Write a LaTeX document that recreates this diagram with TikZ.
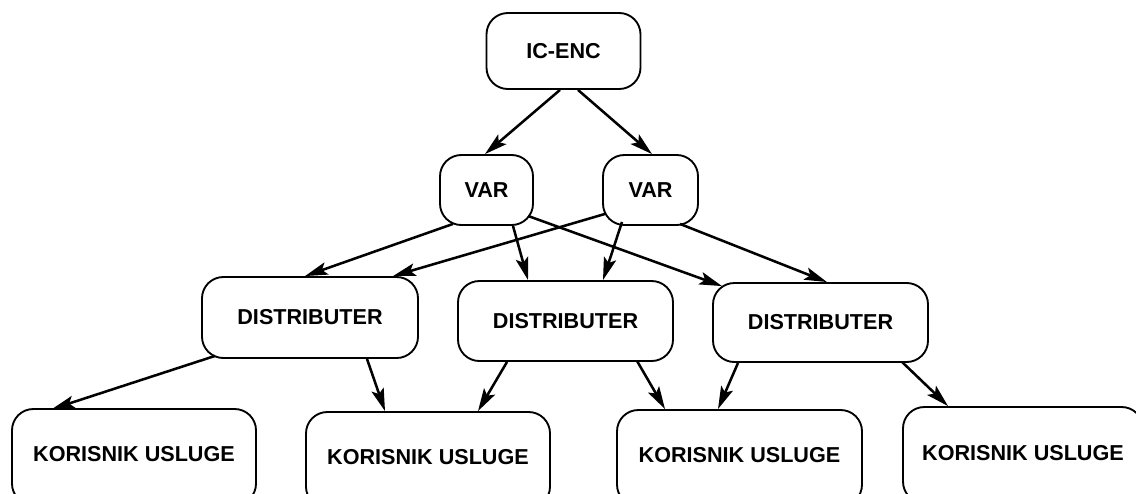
\documentclass[tikz,border=0pt]{standalone}
\usepackage{fontspec}
\setmainfont{Liberation Sans}
\usetikzlibrary{calc,arrows.meta}
\tikzset{
  box/.style={draw=black, line width=1.4pt, rounded corners=16pt, fill=white,
    inner sep=0pt, font=\fontsize{16.2}{19}\selectfont\bfseries, align=center},
  conn/.style={line width=1.9pt, -{Stealth[length=17pt,width=9.5pt,inset=3.5pt]}}
}
\begin{document}
\begin{tikzpicture}[x=0.75pt,y=-0.75pt]
\clip (0,0) rectangle (1136,493);
\fill[white] (0,0) rectangle (1136,493);
% nodes
\node[box, minimum width=115.5pt, minimum height=57pt] (ic) at (563.5,51) {\raisebox{-1.5pt}{IC-ENC}};
\node[box, minimum width=69.75pt, minimum height=52.5pt] (var1) at (486.5,190) {\raisebox{-1.5pt}{VAR}};
\node[box, minimum width=71.25pt, minimum height=52.5pt] (var2) at (650.5,190) {\raisebox{-1.5pt}{VAR}};
\node[box, minimum width=162pt, minimum height=60.75pt] (d1) at (310,317.5) {\raisebox{-2.5pt}{DISTRIBUTER}};
\node[box, minimum width=161.25pt, minimum height=60pt] (d2) at (565.5,321) {\raisebox{-1pt}{DISTRIBUTER}};
\node[box, minimum width=161.25pt, minimum height=59.25pt] (d3) at (820.5,322.5) {\raisebox{-1pt}{DISTRIBUTER}};
\node[box, minimum width=183pt, minimum height=72pt] (k1) at (134,457) {\raisebox{4pt}{KORISNIK USLUGE}};
\node[box, minimum width=183pt, minimum height=72pt] (k2) at (428,460) {\raisebox{4pt}{KORISNIK USLUGE}};
\node[box, minimum width=183.75pt, minimum height=72pt] (k3) at (739.5,458) {\raisebox{4pt}{KORISNIK USLUGE}};
\node[box, minimum width=180pt, minimum height=72pt] (k4) at (1023,455) {\raisebox{3pt}{KORISNIK USLUGE}};
% connectors
\draw[conn] ($(ic.south)+(-3.5,0)$) -- ($(var1.north)+(-1.5,0)$);
\draw[conn] ($(ic.south)+(14.5,0)$) -- ($(var2.north)+(1.5,0)$);
\draw[conn] ($(var1.south)+(-33.5,-2)$) -- ($(d1.north)+(-5,0)$);
\draw[conn] ($(var2.south)+(-45.5,-12)$) -- ($(d1.north)+(83,0)$);
\draw[conn] ($(var1.south)+(26.5,0)$) -- ($(d2.north)+(-37.5,0)$);
\draw[conn] ($(var2.south)+(-28.5,-4)$) -- ($(d2.north)+(37.5,0)$);
\draw[conn] ($(var1.south)+(41.5,-10)$) -- ($(d3.north)+(-98.5,4)$);
\draw[conn] ($(var2.south)+(29.5,-2)$) -- ($(d3.north)+(6.5,0)$);
\draw[conn] ($(d1.south)+(-95,-3)$) -- ($(k1.north)+(-82,1)$);
\draw[conn] ($(d1.south)+(57,0)$) -- ($(k2.north)+(-43,0)$);
\draw[conn] ($(d2.south)+(-58.5,0)$) -- ($(k2.north)+(50,0)$);
\draw[conn] ($(d2.south)+(71.5,-1)$) -- ($(k3.north)+(-74.5,0)$);
\draw[conn] ($(d3.south)+(-82.5,0)$) -- ($(k3.north)+(-21.5,0)$);
\draw[conn] ($(d3.south)+(81.5,-1)$) -- ($(k4.north)+(-75,0)$);
\end{tikzpicture}
\end{document}
